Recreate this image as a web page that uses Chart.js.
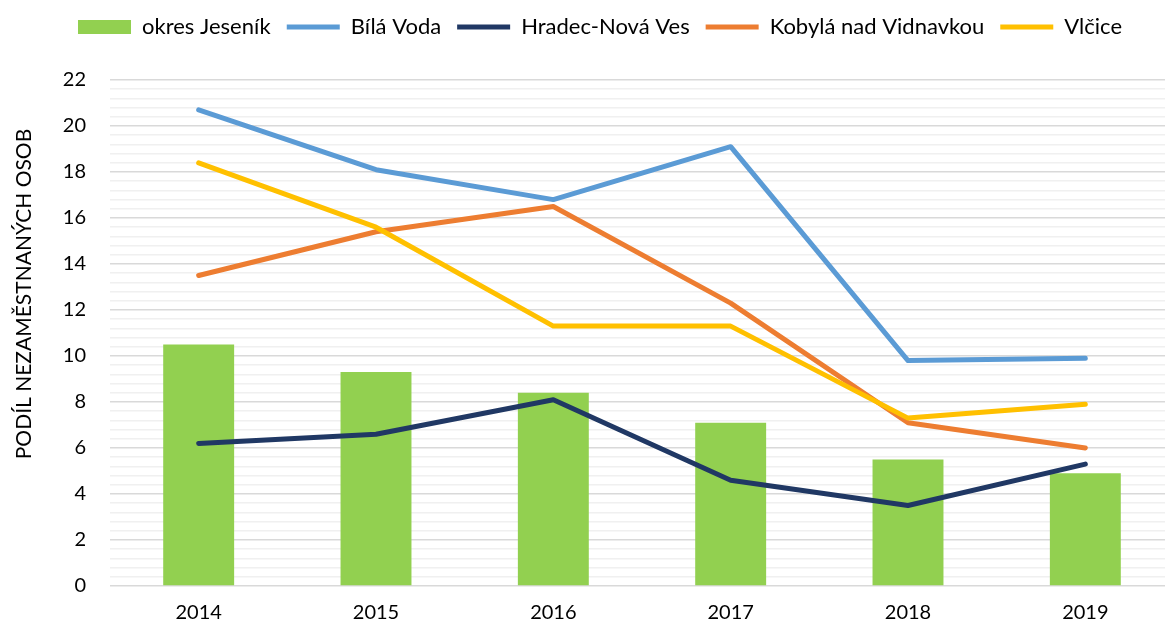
<!DOCTYPE html>
<html>
<head>
<meta charset="utf-8">
<script src="https://cdn.jsdelivr.net/npm/chart.js@4"></script>
<style>
  body { margin: 0; background: #fff; }
  #clip { width: 1165px; height: 628px; overflow: hidden; }
  #wrap { width: 1200px; height: 628px; position: relative; }
</style>
</head>
<body>
<div id="clip"><div id="wrap"><canvas id="myChart"></canvas></div></div>
<script>
const years = ["2014", "2015", "2016", "2017", "2018", "2019"];
const okresJesenik = [10.5, 9.3, 8.4, 7.1, 5.5, 4.9];
const bilaVoda = [20.7, 18.1, 16.8, 19.1, 9.8, 9.9];
const hradecNovaVes = [6.2, 6.6, 8.1, 4.6, 3.5, 5.3];
const kobylaNadVidnavkou = [13.5, 15.4, 16.5, 12.3, 7.1, 6.0];
const vlcice = [18.4, 15.6, 11.3, 11.3, 7.3, 7.9];
const yTitle = "PODÍL NEZAMĚSTNANÝCH OSOB";

const font = "Lato, 'Open Sans', sans-serif";

function lineSet(label, values, color, order) {
  return {
    type: "line",
    label: label,
    data: values,
    borderColor: color,
    backgroundColor: color,
    borderWidth: 5,
    borderCapStyle: "round",
    borderJoinStyle: "round",
    pointRadius: 0,
    pointHoverRadius: 0,
    pointStyle: "line",
    tension: 0,
    order: order,
  };
}

function isMajor(v) {
  return Math.abs(v / 2 - Math.round(v / 2)) < 1e-6;
}

// extra space under the legend
const legendGap = {
  id: "legendGap",
  beforeInit(chart) {
    const fit = chart.legend.fit;
    chart.legend.fit = function () {
      fit.bind(chart.legend)();
      this.height += 32;
    };
  },
};

// y axis title, sitting a bit above the middle like in excel
const yTitlePlugin = {
  id: "yTitlePlugin",
  afterDraw(chart) {
    const c = chart.ctx;
    const area = chart.chartArea;
    c.save();
    c.translate(24, (area.top + area.bottom) / 2 - 39);
    c.rotate(-Math.PI / 2);
    c.fillStyle = "#000";
    c.font = "21px " + font;
    c.textAlign = "center";
    c.textBaseline = "middle";
    c.fillText(yTitle, 0, 0);
    c.restore();
  },
};

const ctx = document.getElementById("myChart");
const myChart = new Chart(ctx, {
  type: "bar",
  data: {
    labels: years,
    datasets: [
      {
        label: "okres Jeseník",
        data: okresJesenik,
        backgroundColor: "#92D050",
        borderWidth: 0,
        barPercentage: 0.4,
        categoryPercentage: 1,
        pointStyle: "rect",
        order: 5,
      },
      lineSet("Bílá Voda", bilaVoda, "#5B9BD5", 4),
      lineSet("Hradec-Nová Ves", hradecNovaVes, "#203864", 3),
      lineSet("Kobylá nad Vidnavkou", kobylaNadVidnavkou, "#ED7D31", 2),
      lineSet("Vlčice", vlcice, "#FFC000", 1),
    ],
  },
  plugins: [legendGap, yTitlePlugin],
  options: {
    responsive: true,
    maintainAspectRatio: false,
    animation: false,
    layout: { padding: { left: 26, right: 26, top: 0, bottom: 0 } },
    plugins: {
      tooltip: { enabled: false },
      legend: {
        position: "top",
        labels: {
          usePointStyle: true,
          pointStyleWidth: 53,
          boxHeight: 14,
          padding: 16,
          color: "#000",
          font: { family: font, size: 22 },
          sort: (a, b) => a.datasetIndex - b.datasetIndex,
        },
      },
    },
    scales: {
      x: {
        grid: { display: false, drawTicks: false },
        border: { display: false },
        ticks: { color: "#000", font: { family: font, size: 20 }, padding: 15 },
        afterFit: (scale) => { scale.height = 42; },
      },
      y: {
        min: 0,
        max: 22,
        border: { display: false },
        grid: {
          color: (c) => (isMajor(c.tick.value) ? "#d9d9d9" : "#f0f0f0"),
          lineWidth: 1.5,
          drawTicks: false,
        },
        ticks: {
          stepSize: 0.4,
          maxTicksLimit: 100,
          autoSkip: false,
          color: "#000",
          padding: 24,
          font: { family: font, size: 20 },
          callback: (v) => (isMajor(v) ? String(Math.round(v)) : ""),
        },
        afterFit: (scale) => { scale.width = 84; },
      },
    },
  },
});
</script>
</body>
</html>
